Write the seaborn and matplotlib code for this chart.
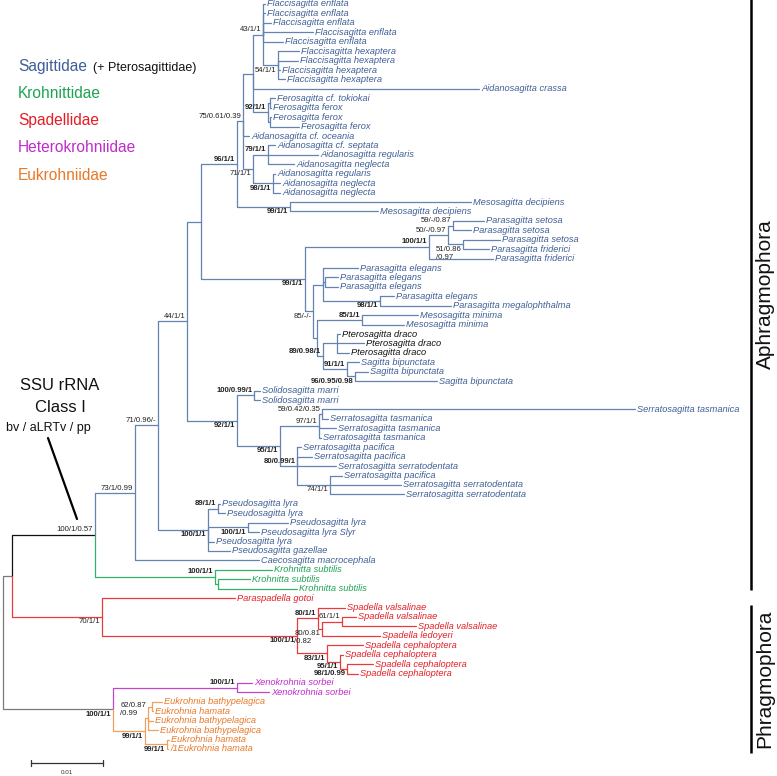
"""
SSU rRNA 계통수 (Class I) — 화살벌레(Chaetognatha) 80개 서열
가지 색 = 과(family), 노드 라벨 = bv / aLRTv / pp
"""
import re

import matplotlib
matplotlib.use("Agg")
import matplotlib.pyplot as plt
from matplotlib.lines import Line2D
import pandas as pd
import seaborn as sns

sns.set_theme(style="white")
plt.rcParams["font.family"] = ["Liberation Sans", "DejaVu Sans"]

# 잎(leaf) 이름 — 위에서 아래 순서. 트리 문자열의 숫자 = 이 리스트의 번호(1부터)
LEAVES = [
    "Flaccisagitta enflata", "Flaccisagitta enflata", "Flaccisagitta enflata",
    "Flaccisagitta enflata", "Flaccisagitta enflata", "Flaccisagitta hexaptera",
    "Flaccisagitta hexaptera", "Flaccisagitta hexaptera", "Flaccisagitta hexaptera",
    "Aidanosagitta crassa", "Ferosagitta cf. tokiokai", "Ferosagitta ferox",
    "Ferosagitta ferox", "Ferosagitta ferox", "Aidanosagitta cf. oceania",
    "Aidanosagitta cf. septata", "Aidanosagitta regularis", "Aidanosagitta neglecta",
    "Aidanosagitta regularis", "Aidanosagitta neglecta", "Aidanosagitta neglecta",
    "Mesosagitta decipiens", "Mesosagitta decipiens", "Parasagitta setosa",
    "Parasagitta setosa", "Parasagitta setosa", "Parasagitta friderici",
    "Parasagitta friderici", "Parasagitta elegans", "Parasagitta elegans",
    "Parasagitta elegans", "Parasagitta elegans", "Parasagitta megalophthalma",
    "Mesosagitta minima", "Mesosagitta minima", "Pterosagitta draco",
    "Pterosagitta draco", "Pterosagitta draco", "Sagitta bipunctata",
    "Sagitta bipunctata", "Sagitta bipunctata", "Solidosagitta marri",
    "Solidosagitta marri", "Serratosagitta tasmanica", "Serratosagitta tasmanica",
    "Serratosagitta tasmanica", "Serratosagitta tasmanica", "Serratosagitta pacifica",
    "Serratosagitta pacifica", "Serratosagitta serratodentata", "Serratosagitta pacifica",
    "Serratosagitta serratodentata", "Serratosagitta serratodentata", "Pseudosagitta lyra",
    "Pseudosagitta lyra", "Pseudosagitta lyra", "Pseudosagitta lyra Slyr",
    "Pseudosagitta lyra", "Pseudosagitta gazellae", "Caecosagitta macrocephala",
    "Krohnitta subtilis", "Krohnitta subtilis", "Krohnitta subtilis",
    "Paraspadella gotoi", "Spadella valsalinae", "Spadella valsalinae",
    "Spadella valsalinae", "Spadella ledoyeri", "Spadella cephaloptera",
    "Spadella cephaloptera", "Spadella cephaloptera", "Spadella cephaloptera",
    "Xenokrohnia sorbei", "Xenokrohnia sorbei", "Eukrohnia bathypelagica",
    "Eukrohnia hamata", "Eukrohnia bathypelagica", "Eukrohnia bathypelagica",
    "Eukrohnia hamata", "/1Eukrohnia hamata",
]

GENUS_FAMILY = {
    "Flaccisagitta": "Sagittidae", "Aidanosagitta": "Sagittidae",
    "Ferosagitta": "Sagittidae", "Mesosagitta": "Sagittidae",
    "Parasagitta": "Sagittidae", "Sagitta": "Sagittidae",
    "Solidosagitta": "Sagittidae", "Serratosagitta": "Sagittidae",
    "Pseudosagitta": "Sagittidae", "Caecosagitta": "Sagittidae",
    "Pterosagitta": "Pterosagittidae", "Krohnitta": "Krohnittidae",
    "Paraspadella": "Spadellidae", "Spadella": "Spadellidae",
    "Xenokrohnia": "Heterokrohniidae", "Eukrohnia": "Eukrohniidae",
}

# 트리 (Newick). ':' 뒤 값 = 뿌리로부터의 거리 (72 단위 = 0.01 치환/사이트)
# 내부 노드 라벨 = bv/aLRTv/pp, 끝 기호 ^ = 가지 위, _ = 가지 아래, | = 줄바꿈
TREE = """
(((((((((((1:262,2:262,3:268,4:310,5:280,(6:296,7:295,8:277,9:282)'54/1/1_':275)'43/1/1^':260,
10:476,((11:272,12:268):267,(13:268,14:296):267)'92/1/1^':265):250,
15:246,
((16:272,17:315,18:291)'79/1/1^':265,(19:272,20:277,21:277)'98/1/1_':270)'71/1/1_':250
)'75/0.61/0.39^':240,
(22:468,23:375)'99/1/1_':287)'96/1/1^':234,
((((24:481,25:468)'59/-/0.87^':450,(26:497,27:486)'51/0.86|/0.97_':460)'50/-/0.97^':445,28:490)'100/1/1^':426,
((29:355,(30:335,31:335):322,(32:391,33:448)'98/1/1_':377):320,
((34:415,35:401)'85/1/1^':359,
((36:337,37:361,38:346):334,(39:356,(40:365,41:434)'96/0.95/0.98_':352)'91/1/1^':344)'89/0.98/1^':320
):314)'85/-/-_':310)'99/1/1_':302
):198,
((42:257,43:257)'100/0.99/1^':251,
(((44:632,45:325)'59/0.42/0.35^':319,46:333,47:318)'97/1/1^':316,
(48:298,49:309,50:333,(51:339,52:398,53:401)'74/1/1_':327)'80/0.99/1^':294)'95/1/1_':277
)'92/1/1_':234
)'44/1/1^':184,
((54:217,55:222)'89/1/1^':215,(56:285,57:256)'100/1/1_':245,58:211,59:227)'100/1/1_':205
)'71/0.96/-^':155,
60:256)'73/1/0.99^':132,
(61:269,(62:247,63:294):215)'100/1/1^':212
)'100/1/0.57^':92,
(64:232,
((65:342,((66:353,67:413)'61/1/1^':339,68:377)'80/0.81|/0.82_':319)'80/1/1^':315,
(69:360,(70:340,(71:370,72:355)'98/1/0.99_':344)'95/1/1_':337)'83/1/1_':324
)'100/1/1_':294
)'70/1/1_':99
):9,
((73:249,74:266)'100/1/1^':234,
(((75:159,76:150):149,77:150,78:155)'62/0.87|/0.99^':145,(79:166,80:165)'99/1/1_':164)'99/1/1_':142
)'100/1/1_':110
):0;
"""

BOLD = {"96/1/1", "92/1/1", "79/1/1", "98/1/1", "99/1/1", "100/1/1", "85/1/1",
        "89/0.98/1", "91/1/1", "96/0.95/0.98", "100/0.99/1", "95/1/1",
        "80/0.99/1", "89/1/1", "80/1/1", "83/1/1", "98/1/0.99"}

FAMILIES = ["Sagittidae", "Krohnittidae", "Spadellidae", "Heterokrohniidae", "Eukrohniidae"]
SCALE_BAR = 0.01
UNITS_PER_SUBST = 7200

# 색
TEXT_COL = {"Sagittidae": "#3f5f96", "Pterosagittidae": "#111111",
            "Krohnittidae": "#1ea352", "Spadellidae": "#e51d25",
            "Heterokrohniidae": "#c02cca", "Eukrohniidae": "#e8782a"}
LINE_COL = {"Sagittidae": "#6383b0", "Pterosagittidae": "#6383b0",
            "Krohnittidae": "#35b068", "Spadellidae": "#ea3a3e",
            "Heterokrohniidae": "#c444cf", "Eukrohniidae": "#efa060"}
BACKBONE = "#111111"
ROOT_GREY = "#7a7a7a"


def family_of(name):
    for genus, fam in GENUS_FAMILY.items():
        if genus in name.split()[0]:
            return fam
    return "Sagittidae"


def parse(s):
    s = "".join(s.split())
    pat = re.compile(r"('[^']*'|[^:,();]*)(?::([\d.]+))?")
    pos = 0

    def node():
        nonlocal pos
        kids = []
        if s[pos] == "(":
            pos += 1
            kids.append(node())
            while s[pos] == ",":
                pos += 1
                kids.append(node())
            pos += 1
        m = pat.match(s, pos)
        pos = m.end()
        return {"label": m.group(1).strip("'"), "depth": float(m.group(2) or 0), "kids": kids}

    return node()


def layout(n):
    if not n["kids"]:
        i = int(n["label"]) - 1
        n["y"] = i
        n["line"] = LINE_COL[family_of(LEAVES[i])]
        return
    for k in n["kids"]:
        layout(k)
    n["y"] = (n["kids"][0]["y"] + n["kids"][-1]["y"]) / 2
    cols = {k["line"] for k in n["kids"]}
    n["line"] = cols.pop() if len(cols) == 1 else BACKBONE


def collect(n, rows, nodes):
    nodes.append(n)
    for k in n["kids"]:
        seg = len(rows) // 3
        for x, y in [(n["depth"], n["y"]), (n["depth"], k["y"]), (k["depth"], k["y"])]:
            rows.append({"seg": seg, "x": x, "y": y, "colour": k["line"]})
        collect(k, rows, nodes)


def main():
    root = parse(TREE)
    layout(root)
    for k in root["kids"]:
        if k["line"] == BACKBONE:
            k["line"] = ROOT_GREY
    rows, nodes = [], []
    collect(root, rows, nodes)
    df = pd.DataFrame(rows)

    W, H = 777, 776
    fig = plt.figure(figsize=(W / 100, H / 100), dpi=100)
    ax = fig.add_axes([0, 0, 1, 1])
    row_px = 9.43
    ax.set_xlim(-3, W - 3)
    ax.set_ylim((H - 4) / row_px, -4 / row_px)
    ax.axis("off")

    palette = {c: c for c in df["colour"].unique()}
    sns.lineplot(data=df, x="x", y="y", units="seg", hue="colour", palette=palette,
                 estimator=None, sort=False, legend=False, lw=0.9, ax=ax)

    # 잎 라벨
    for n in nodes:
        if n["kids"]:
            continue
        name = LEAVES[n["y"]]
        ax.annotate(name, (n["depth"], n["y"]), xytext=(1.6, 0), textcoords="offset points",
                    ha="left", va="center", fontsize=6.7, style="italic",
                    color=TEXT_COL[family_of(name)])

    # 지지도 라벨
    for n in nodes:
        lab = n["label"]
        if not n["kids"] or not lab:
            continue
        side = lab[-1]
        txt = lab[:-1].replace("|", "\n")
        below = side == "_"
        ax.annotate(txt, (n["depth"], n["y"]), xytext=(-1.2, -1.0 if below else 1.0),
                    textcoords="offset points", ha="right", va="top" if below else "bottom",
                    multialignment="left", fontsize=5.6, linespacing=1.25,
                    fontweight="bold" if lab[:-1] in BOLD else "normal", color="#222222")

    # 축척 막대
    bar_x0, bar_y = 28, 80.5
    bar_len = SCALE_BAR * UNITS_PER_SUBST
    ax.plot([bar_x0, bar_x0 + bar_len], [bar_y, bar_y], color="#333333", lw=0.9)
    for xe in (bar_x0, bar_x0 + bar_len):
        ax.plot([xe, xe], [bar_y - 0.35, bar_y + 0.35], color="#333333", lw=0.9)
    ax.text(bar_x0 + bar_len / 2, bar_y + 0.95, f"{SCALE_BAR:g}", ha="center", va="center",
            fontsize=4.5, color="#333333")

    # 오른쪽 그룹 막대
    for name, (y0, y1) in {"Aphragmophora": (-0.5, 62.1), "Phragmophora": (63.7, 79.4)}.items():
        ax.plot([748, 748], [y0, y1], color="black", lw=1.8, solid_capstyle="butt")
        ax.text(762, (y0 + y1) / 2, name, rotation=90, ha="center", va="center",
                fontsize=15, color="#111111")

    # 범례 (과 이름)
    fx = lambda px: px / W
    fy = lambda py: 1 - py / H
    for i, fam in enumerate(FAMILIES):
        fig.text(fx(18), fy(71.5 + 27 * i), fam, fontsize=11.2, color=TEXT_COL[fam],
                 ha="left", va="baseline")
    fig.text(fx(93), fy(71.5), "(+ Pterosagittidae)", fontsize=9, color="#111111",
             ha="left", va="baseline")

    # 설명 문구
    fig.text(fx(60), fy(385), "SSU rRNA", fontsize=12, ha="center", va="center", color="#111111")
    fig.text(fx(60), fy(408), "Class I", fontsize=12, ha="center", va="center", color="#111111")
    fig.text(fx(48), fy(428), "bv / aLRTv / pp", fontsize=9, ha="center", va="center",
             color="#111111")
    fig.add_artist(Line2D([fx(48), fx(77)], [fy(438), fy(519)], color="black", lw=1.6))

    fig.savefig("out.png", dpi=100, facecolor="white")
    plt.close(fig)


if __name__ == "__main__":
    main()
